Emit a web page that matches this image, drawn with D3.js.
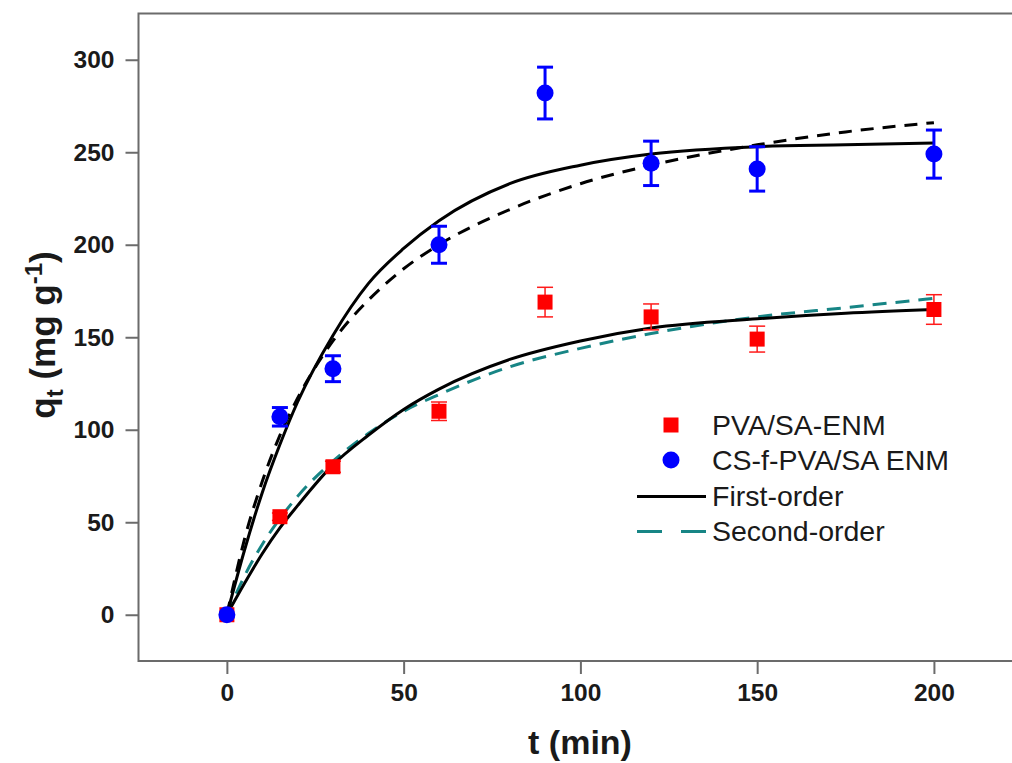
<!DOCTYPE html>
<html>
<head>
<meta charset="utf-8">
<script src="https://cdn.jsdelivr.net/npm/d3@7"></script>
<style>
  body { margin: 0; background: #fff; }
  svg { display: block; font-family: Arial, "Liberation Sans", sans-serif; }
</style>
</head>
<body>
<div id="chart"></div>
<script>
// measured points (t in min)
var times = [0, 15, 30, 60, 90, 120, 150, 200];
var pvaQ = [0, 53, 80, 110, 169, 161, 149, 165];
var pvaErr = [0, 2, 3, 5, 8, 7, 7, 8];
var csQ = [0, 107, 133, 200, 282, 244, 241, 249];
var csErr = [0, 5, 7, 10, 14, 12, 12, 13];

// fitted curves
var fitT = [0, 5, 10, 15, 20, 30, 40, 50, 60, 80, 100, 120, 150, 175, 200];
var csFirst = [0, 35, 66, 92, 115, 151, 179, 198, 213, 233, 243, 249, 253, 254, 255];
var csSecond = [0, 41, 72, 97, 117, 148, 170, 187, 200, 219, 233, 243, 254, 261, 266];
var pvaFirst = [0, 17, 33, 47, 59, 81, 97, 111, 122, 138, 148, 155, 160, 163, 165];
var pvaSecond = [0, 21, 38, 52, 64, 83, 98, 110, 119, 134, 144, 152, 161, 166, 171];

var xTicks = [0, 50, 100, 150, 200];
var yTicks = [0, 50, 100, 150, 200, 250, 300];

var W = 1012, H = 763;
var svg = d3.select('#chart').append('svg').attr('width', W).attr('height', H);

var x = d3.scaleLinear().domain([-25, 225]).range([138.5, 1022.3]);
var y = d3.scaleLinear().domain([-25, 325]).range([661, 13.5]);

// frame
svg.append('rect')
	.attr('x', x(-25)).attr('y', y(325))
	.attr('width', x(225) - x(-25)).attr('height', y(-25) - y(325))
	.attr('fill', 'none').attr('stroke', '#6b6b6b').attr('stroke-width', 2);

var xAxis = d3.axisBottom(x).tickValues(xTicks).tickSize(13).tickPadding(10).tickFormat(d3.format('d'));
var yAxis = d3.axisLeft(y).tickValues(yTicks).tickSize(13).tickPadding(11).tickFormat(d3.format('d'));

var xAxisG = svg.append('g').attr('transform', 'translate(0,' + y(-25) + ')').call(xAxis);
var yAxisG = svg.append('g').attr('transform', 'translate(' + x(-25) + ',0)').call(yAxis);

[xAxisG, yAxisG].forEach(function(g) {
	g.select('.domain').remove();
	g.selectAll('.tick line').attr('stroke', '#6b6b6b').attr('stroke-width', 2);
	g.selectAll('.tick text')
		.attr('fill', '#1a1a1a')
		.style('font-size', '24.5px')
		.style('font-weight', 'bold');
});

// fitted lines
var line = d3.line()
	.x(function(d) { return x(d[0]); })
	.y(function(d) { return y(d[1]); })
	.curve(d3.curveMonotoneX);

function pairs(vals) {
	return fitT.map(function(t, i) { return [t, vals[i]]; });
}

var linesG = svg.append('g');

linesG.append('path').attr('d', line(pairs(pvaSecond)))
	.attr('fill', 'none').attr('stroke', '#178585').attr('stroke-width', 3)
	.attr('stroke-dasharray', '14 9');
linesG.append('path').attr('d', line(pairs(pvaFirst)))
	.attr('fill', 'none').attr('stroke', '#000').attr('stroke-width', 3);
linesG.append('path').attr('d', line(pairs(csSecond)))
	.attr('fill', 'none').attr('stroke', '#000').attr('stroke-width', 3)
	.attr('stroke-dasharray', '13 9');
linesG.append('path').attr('d', line(pairs(csFirst)))
	.attr('fill', 'none').attr('stroke', '#000').attr('stroke-width', 3);

// error bars + markers
var ptsG = svg.append('g');

function errorBars(vals, errs, color, width) {
	times.forEach(function(t, i) {
		if (errs[i] <= 0) return;
		var cx = x(t), top = y(vals[i] + errs[i]), bot = y(vals[i] - errs[i]);
		ptsG.append('line').attr('x1', cx).attr('x2', cx).attr('y1', top).attr('y2', bot)
			.attr('stroke', color).attr('stroke-width', width);
		[top, bot].forEach(function(yy) {
			ptsG.append('line').attr('x1', cx - 8).attr('x2', cx + 8).attr('y1', yy).attr('y2', yy)
				.attr('stroke', color).attr('stroke-width', width);
		});
	});
}

errorBars(pvaQ, pvaErr, '#ff1a1a', 1.5);
times.forEach(function(t, i) {
	ptsG.append('rect')
		.attr('x', x(t) - 7.5).attr('y', y(pvaQ[i]) - 7.5)
		.attr('width', 15).attr('height', 15)
		.attr('fill', '#ff0000');
});

errorBars(csQ, csErr, '#0000ff', 3);
times.forEach(function(t, i) {
	ptsG.append('circle')
		.attr('cx', x(t)).attr('cy', y(csQ[i])).attr('r', 8.5)
		.attr('fill', '#0000ff');
});

// legend
var legend = svg.append('g');
var lx = 671, tx = 712;
var rows = [425, 460, 496.5, 531.5];
var names = ['PVA/SA-ENM', 'CS-f-PVA/SA ENM', 'First-order', 'Second-order'];

legend.append('rect').attr('x', lx - 7.5).attr('y', rows[0] - 7.5).attr('width', 15).attr('height', 15).attr('fill', '#ff0000');
legend.append('circle').attr('cx', lx).attr('cy', rows[1]).attr('r', 8.5).attr('fill', '#0000ff');
legend.append('line').attr('x1', 637).attr('x2', 706).attr('y1', rows[2]).attr('y2', rows[2])
	.attr('stroke', '#000').attr('stroke-width', 3);
legend.append('line').attr('x1', 637).attr('x2', 706).attr('y1', rows[3]).attr('y2', rows[3])
	.attr('stroke', '#178585').attr('stroke-width', 3).attr('stroke-dasharray', '25 19');

names.forEach(function(n, i) {
	legend.append('text')
		.attr('x', tx).attr('y', rows[i])
		.attr('dy', '0.35em')
		.attr('fill', '#1a1a1a')
		.style('font-size', '28.5px')
		.text(n);
});

// axis titles
svg.append('text')
	.attr('x', 580).attr('y', 754)
	.attr('text-anchor', 'middle')
	.attr('fill', '#1a1a1a')
	.style('font-size', '34px').style('font-weight', 'bold')
	.text('t (min)');

var yt = svg.append('text')
	.attr('transform', 'translate(55,335) rotate(-90)')
	.attr('text-anchor', 'middle')
	.attr('fill', '#1a1a1a')
	.style('font-size', '35px').style('font-weight', 'bold');
yt.append('tspan').text('q');
yt.append('tspan').attr('dy', 8).style('font-size', '24px').text('t');
yt.append('tspan').attr('dy', -8).text(' (mg g');
yt.append('tspan').attr('dy', -13).style('font-size', '24px').text('-1');
yt.append('tspan').attr('dy', 13).text(')');
</script>
</body>
</html>
